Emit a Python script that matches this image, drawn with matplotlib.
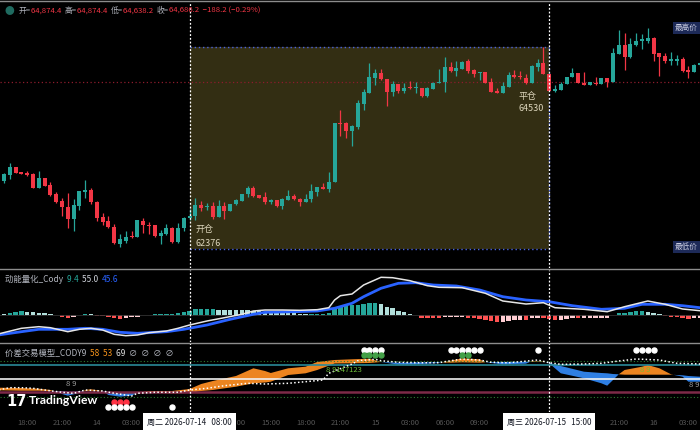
import numpy as np
import matplotlib
matplotlib.use("Agg")
import matplotlib.pyplot as plt
from matplotlib.lines import Line2D
from matplotlib.patches import Rectangle

plt.rcParams["font.family"] = ["Noto Sans CJK SC", "DejaVu Sans"]

W, H = 700, 430
BG = "#000000"
UP = "#26a69a"
DOWN = "#f23645"
LBL = "#b2b5be"

# 30 minute candles, index 0 = 2026-07-13 16:00
opens = [62983, 63086, 63213, 63127, 63110, 63093, 62863, 63024, 62909, 62749,
         62639, 62525, 62324, 62553, 62789, 62823, 62622, 62353, 62290, 62192,
         61894, 61951, 62037, 62009, 62295, 62226, 62216, 62037, 62066, 62164,
         61923, 62164, 62336, 62381, 62565, 62525, 62548, 62364, 62553, 62462,
         62577, 62639, 62749, 62857, 62737, 62703, 62617, 62646, 62553, 62651,
         62725, 62673, 62622, 62663, 62794, 62880, 62845, 62955, 63975, 63970,
         63843, 63901, 64302, 64497, 64755, 64830, 64732, 64514, 64641, 64531,
         64600, 64577, 64583, 64440, 64560, 64658, 64675, 64933, 64870, 64904,
         65042, 64887, 64830, 64847, 64681, 64531, 64497, 64600, 64801, 64784,
         64755, 64658, 64944, 65002, 64818, 64526, 64543, 64641, 64772, 64841,
         64669, 64629, 64669, 64641, 64744, 64686, 65157, 65317, 65105, 65317,
         65391, 65391, 65432, 65174, 65128, 65047, 65047, 65071, 64887, 64858,
         64973]
highs = [63121, 63282, 63224, 63133, 63150, 63121, 63150, 63029, 62966, 62794,
         62680, 62777, 62663, 62806, 62995, 62852, 62634, 62433, 62381, 62238,
         62066, 62123, 62118, 62307, 62336, 62278, 62226, 62135, 62233, 62181,
         62250, 62364, 62491, 62680, 62639, 62594, 62622, 62651, 62611, 62582,
         62668, 62754, 62892, 62892, 62742, 62783, 62668, 62656, 62691, 62823,
         62754, 62691, 62749, 62921, 62880, 62938, 63127, 63970, 64199, 63987,
         63941, 64371, 64560, 65002, 64904, 64904, 64732, 64698, 64641, 64669,
         64703, 64675, 64583, 64589, 64681, 64904, 65116, 65030, 65042, 65042,
         65071, 64899, 64858, 64847, 64744, 64572, 64675, 64847, 64887, 64870,
         64813, 64973, 65071, 65277, 64818, 64629, 64686, 64772, 64916, 64841,
         64858, 64675, 64761, 64744, 64744, 65260, 65575, 65529, 65432, 65529,
         65506, 65604, 65460, 65174, 65185, 65191, 65145, 65116, 64956, 64990,
         65025]
lows = [62949, 63007, 63115, 63093, 63069, 62863, 62863, 62892, 62725, 62594,
        62381, 62175, 62118, 62479, 62680, 62577, 62290, 62221, 62164, 61894,
        61837, 61906, 61992, 62009, 62089, 62066, 62009, 61889, 62044, 61917,
        61906, 62118, 62307, 62307, 62467, 62479, 62324, 62353, 62324, 62462,
        62560, 62639, 62708, 62708, 62685, 62582, 62577, 62536, 62501, 62651,
        62656, 62548, 62622, 62622, 62725, 62835, 62794, 62955, 63757, 63712,
        63585, 63872, 64199, 64497, 64629, 64715, 64268, 64440, 64486, 64486,
        64555, 64497, 64428, 64417, 64560, 64658, 64514, 64858, 64789, 64904,
        64830, 64772, 64715, 64669, 64514, 64497, 64497, 64600, 64744, 64732,
        64646, 64658, 64875, 64813, 64526, 64514, 64543, 64641, 64761, 64658,
        64629, 64629, 64629, 64641, 64600, 64686, 65157, 64887, 65088, 65300,
        65243, 65346, 65047, 64784, 65002, 64973, 64973, 64858, 64755, 64858,
        64956]
closes = [63098, 63224, 63121, 63098, 63081, 62863, 63024, 62897, 62737, 62622,
          62525, 62324, 62565, 62806, 62823, 62611, 62336, 62267, 62181, 61906,
          61975, 62020, 62015, 62307, 62221, 62204, 62032, 62078, 62164, 61923,
          62175, 62347, 62376, 62565, 62508, 62548, 62353, 62553, 62467, 62582,
          62651, 62754, 62857, 62725, 62691, 62611, 62646, 62553, 62663, 62720,
          62668, 62622, 62673, 62806, 62880, 62845, 62966, 63970, 63958, 63843,
          63919, 64314, 64503, 64761, 64830, 64727, 64514, 64641, 64526, 64583,
          64577, 64600, 64440, 64572, 64669, 64686, 64933, 64870, 64916, 65030,
          64870, 64818, 64853, 64669, 64514, 64497, 64617, 64801, 64772, 64761,
          64658, 64956, 65002, 64813, 64530, 64560, 64646, 64772, 64841, 64658,
          64629, 64675, 64641, 64744, 64686, 65174, 65317, 65105, 65334, 65391,
          65415, 65432, 65157, 65116, 65047, 65071, 65071, 64870, 64858, 64973,
          65013]

last_price = 64686
entry_idx, entry_price = 32, 62376
exit_idx, exit_price = 94, 64530
box_top, box_bottom = 65283, 61808

# 动能量化 pane
hist = [0.7, 2.3, 3.3, 4.0, 3.3, 2.6, 2.4, 2.3, 1.0, 0.0,
        -1.7, -2.7, -1.7, 0.3, 1.0, 0.7, -0.7, -1.0, -1.7, -3.3,
        -4.0, -2.7, -2.3, -1.7, 0.3, 0.5, 0.7, 0.8, 1.0, 1.3,
        2.3, 3.3, 4.3, 5.7, 5.9, 6.0, 6.1, 5.5, 5.4, 5.3,
        5.2, 5.0, 4.9, 4.3, 4.0, 3.3, 2.4, 2.3, 1.8, 1.7,
        1.6, 1.0, 0.9, 1.0, 1.1, 1.2, 2.3, 6.0, 8.3, 9.3,
        9.8, 10.5, 11.3, 11.6, 11.7, 10.7, 8.3, 6.7, 4.3, 2.7,
        1.0, -0.3, -2.5, -2.6, -2.7, -2.8, -2.4, -2.3, -2.2, -1.7,
        -2.5, -2.9, -4.0, -5.0, -6.0, -7.3, -6.7, -5.7, -5.0, -4.9,
        -5.1, -3.3, -2.7, -2.9, -4.0, -5.0, -4.9, -4.0, -3.2, -3.4,
        -3.3, -3.2, -3.1, -2.7, -2.6, -0.3, 1.7, 2.3, 3.3, 4.0,
        4.3, 3.3, 2.3, 1.0, -0.7, -1.5, -1.8, -3.3, -4.3, -3.3,
        -2.7]
fast_idx = [-1, 3, 6, 8, 11, 13, 15, 17, 19, 21, 23, 25, 28, 30, 32, 35, 38, 41, 43, 45,
            48, 51, 54, 56, 57, 58, 60, 62, 65, 67, 70, 73, 75, 79, 83, 86, 90, 93, 95, 100,
            104, 107, 111, 114, 117, 120]
fast_val = [-19, -13.3, -11.7, -12.7, -16.7, -14.3, -13.3, -15, -19.3, -20.7, -20, -17.7, -16,
            -13.3, -10, -6, -2.7, 0.7, 4, 5, 5, 4.7, 5.3, 7.3, 15, 19.3, 21, 30, 37.7, 37.3,
            34.3, 29.3, 27.7, 27.3, 21.7, 14, 11, 12.3, 7.3, 5.7, 3.3, 8.3, 14, 10.7, 6, 4.3]
slow_idx = [-1, 3, 6, 11, 14, 17, 20, 23, 28, 31, 35, 39, 43, 45, 50, 54, 57, 60, 62, 65,
            68, 71, 74, 78, 82, 86, 90, 94, 98, 103, 107, 110, 114, 117, 120]
slow_val = [-20, -16.7, -14.3, -14.3, -13.3, -14.3, -17.3, -18.3, -16.7, -14.3, -10, -4.3,
            0.7, 2.7, 3.3, 4, 6.7, 11.7, 18.3, 26.7, 31.7, 32.3, 30, 29, 25, 18.3, 15, 13.3,
            9.3, 5.7, 6.7, 10.7, 10.7, 9.3, 7.3]

# 价差交易模型 pane
spread_idx = [-1, 3, 6, 8, 10, 11, 13, 14, 15, 17, 18, 20, 22, 23, 25, 29, 32, 34, 36, 40,
              43, 45, 46, 49, 52, 54, 57, 60, 63, 65, 68, 72, 75, 77, 79, 82, 83, 86, 90, 91,
              93, 94, 96, 100, 103, 104, 105, 106, 107, 110, 111, 113, 115, 117, 118, 120]
spread_fast = [12.3, 12, 11.3, 10, 6, 4.3, 7, 10, 10.7, 9, 5, 3.3, 4.3, 7.3, 9, 9, 11, 16, 19,
               24, 31.7, 29, 27, 31.7, 33.3, 38, 40, 40.7, 41.3, 38, 35.3, 36, 37, 39.3, 41.7,
               40.7, 37.7, 35.7, 36.3, 39, 38.3, 36.7, 26.7, 21.7, 16.7, 14.3, 20, 25.7, 30,
               33.3, 35, 31.7, 25.7, 23.3, 18.3, 18.3]
spread_slow = [9.7, 9.3, 9.3, 9, 9, 8.3, 8.7, 9.3, 9.3, 9, 8, 7.7, 7.7, 7.7, 7.3, 6.7, 7, 9,
               10, 13.3, 16.7, 17.5, 18.3, 25, 26.7, 30, 36.5, 36.7, 37, 38, 37.3, 37.7, 37.7,
               37.3, 37.7, 37.3, 37.7, 38, 38.3, 38.3, 38, 37.3, 34, 28.3, 27, 26.7, 26, 25.7,
               25.3, 25.3, 25.3, 25.3, 25.3, 24.7, 24, 23.3]
signal_idx = [-1, 1, 3, 5, 7, 10, 12, 14, 17, 19, 22, 23, 26, 28, 30, 32, 35, 38, 42, 45,
              49, 52, 55, 56, 60, 61, 64, 65, 68, 71, 75, 77, 79, 82, 84, 87, 89, 92, 94, 96,
              100, 103, 106, 109, 113, 116, 120]
signal_val = [10, 12.3, 12.3, 11.7, 10, 7.7, 6.7, 10, 9, 6.7, 4, 6.7, 7.7, 7.7, 7.7, 10, 11.7,
              14.3, 16.7, 16, 16.7, 18.3, 20, 26.7, 36, 39.3, 40.7, 39.3, 37.7, 37.3, 37.3, 39.3,
              41, 40, 37.7, 37.3, 38.3, 40, 37.3, 35.7, 36, 36.7, 39, 41, 40, 36.7, 36]
levels = {"upper_dot": 39.3, "upper": 35, "mid": 21, "lower": 8.3, "lower_dot": 2.7}
dots_top = [62, 63, 64, 65, 77, 78, 79, 80, 81, 82, 92, 109, 110, 111, 112]
dots_green = [62, 63, 64, 65, 79, 80]
dots_red = [19, 20, 21]
dots_bottom = [18, 19, 20, 21, 22, 29]

tick_idx = [4, 10, 16, 22, 40, 46, 52, 58, 64, 70, 76, 82, 106, 112, 118]
tick_text = ["18:00", "21:00", "14", "03:00", "12:00", "15:00", "18:00", "21:00",
             "15", "03:00", "06:00", "09:00", "21:00", "16", "03:00"]

XLIM = (-0.69, 120.0)


def pane(top_px, bottom_px):
    ax = fig.add_axes([0, 1 - bottom_px / H, 1, (bottom_px - top_px) / H])
    ax.set_facecolor(BG)
    ax.set_xlim(*XLIM)
    for s in ax.spines.values():
        s.set_visible(False)
    ax.set_yticks([])
    ax.tick_params(axis="x", length=0, labelbottom=False)
    return ax


def put_row(x_px, y_px, parts, size=6):
    r = fig.canvas.get_renderer()
    x = x_px / W
    for s, c in parts:
        t = fig.text(x, 1 - y_px / H, s, color=c, fontsize=size, va="center", ha="left")
        x += t.get_window_extent(renderer=r).width / W


fig = plt.figure(figsize=(W / 100, H / 100), dpi=100, facecolor=BG)

# ---- main price pane
ax1 = pane(2, 268)
ax1.set_ylim(61482, 66057)
o, hi, lo, c = map(np.array, (opens, highs, lows, closes))
x = np.arange(len(o))
col = np.where(c >= o, UP, DOWN)
ax1.add_patch(Rectangle((entry_idx, box_bottom), exit_idx - entry_idx, box_top - box_bottom,
                        facecolor="#332e13", edgecolor="none", zorder=0))
for yy in (box_top, box_bottom):
    ax1.plot([entry_idx, exit_idx], [yy, yy], color="#4a63e0", lw=1, ls=(0, (1, 2)), zorder=1)
ax1.plot([exit_idx, exit_idx], [box_bottom, box_top], color="#4a63e0", lw=1, ls=(0, (1, 2)))
ax1.axhline(last_price, color="#8c1c2c", lw=0.9, ls=(0, (1, 2)), zorder=1)
ax1.vlines(x, lo, hi, colors=col, lw=0.9, zorder=2)
ax1.bar(x, np.maximum(np.abs(c - o), 14), bottom=np.minimum(o, c), width=0.7, color=col, zorder=3)
ax1.text(entry_idx + 1, 62150, "开仓", color="#ddd6bc", fontsize=6.5, va="center")
ax1.text(entry_idx + 1, 61911, str(entry_price), color="#ddd6bc", fontsize=6.5, va="center")
ax1.text(exit_idx - 5.3, 64440, "平仓", color="#ddd6bc", fontsize=6.5, va="center")
ax1.text(exit_idx - 5.3, 64233, str(exit_price), color="#ddd6bc", fontsize=6.5, va="center")
tag = dict(boxstyle="square,pad=0.25", facecolor="#1d2a58", edgecolor="none")
ax1.text(0.997, max(highs), "最高价", transform=ax1.get_yaxis_transform(), ha="right",
         va="center", fontsize=5.5, color="#c9cce0", bbox=tag)
ax1.text(0.997, min(lows), "最低价", transform=ax1.get_yaxis_transform(), ha="right",
         va="center", fontsize=5.5, color="#c9cce0", bbox=tag)

# ---- momentum pane
ax2 = pane(270, 342)
ax2.set_ylim(-27, 45)
hcol = []
for i, v in enumerate(hist):
    prev = hist[i - 1] if i else v
    if v >= 0:
        hcol.append("#26a69a" if v > prev else "#b2dfdb")
    else:
        hcol.append("#ff5252" if v < prev else "#ffcdd2")
ax2.axhline(0, color="#333333", lw=0.6)
ax2.bar(x, hist, width=0.78, color=hcol)
ax2.plot(slow_idx, slow_val, color="#2962ff", lw=2)
ax2.plot(fast_idx, fast_val, color="#e6e6e6", lw=1.1)

# ---- spread model pane
ax3 = pane(343, 412)
ax3.set_ylim(-12, 57)
ax3.axhline(levels["upper_dot"], color="#2e7d32", lw=0.8, ls=(0, (1, 2)))
ax3.axhline(levels["lower_dot"], color="#2e7d32", lw=0.8, ls=(0, (1, 2)))
ax3.axhline(levels["upper"], color="#2a8a98", lw=1.2)
ax3.axhline(levels["mid"], color="#f0f0f0", lw=1.2)
ax3.axhline(levels["lower"], color="#7c2947", lw=1.8)
sf, ss = np.array(spread_fast), np.array(spread_slow)
ax3.fill_between(spread_idx, sf, ss, where=sf >= ss, interpolate=True, color="#ec8420", lw=0)
ax3.fill_between(spread_idx, sf, ss, where=sf < ss, interpolate=True, color="#2f7fe3", lw=0)
ax3.plot(signal_idx, signal_val, color="white", lw=1.1, ls=(0, (1, 1.5)))
ax3.scatter(dots_top, [50] * len(dots_top), s=13, color="white", zorder=5)
ax3.scatter(dots_green, [45] * len(dots_green), s=13, color="#43a047", zorder=5)
ax3.scatter(dots_red, [-2.3] * len(dots_red), s=13, color="#ff3344", zorder=5)
ax3.scatter(dots_bottom, [-7.3] * len(dots_bottom), s=13, color="white", zorder=5)
ax3.text(11.5, 15.7, "8 9", color="#a0a0a0", fontsize=5.5, ha="center", va="center")
ax3.text(55.5, 30, "8 9147123", color="#6fbf3a", fontsize=5.5, va="center")
ax3.text(110.5, 30, "8 9", color="#6fbf3a", fontsize=5.5, ha="center", va="center")
ax3.text(0.999, 15, "8 9", color="#a0a0a0", fontsize=5.5, ha="right", va="center",
         transform=ax3.get_yaxis_transform())
ax3.set_xticks(tick_idx)
ax3.set_xticklabels(tick_text)
ax3.tick_params(axis="x", length=0, pad=5, labelsize=5.5, labelcolor="#555555",
                labelbottom=True)

# crosshair lines
for ax in (ax1, ax2, ax3):
    for k in (entry_idx, exit_idx):
        ax.axvline(k, color="white", lw=0.9, ls=(0, (1.5, 1.5)), zorder=6)

# pane separators
for y in (0.6, 269, 342.5):
    fig.add_artist(Line2D([0, 1], [1 - y / H] * 2, color="#8c8c8c", lw=1))

# headers
fig.text(9 / W, 1 - 11 / H, "●", color="#1f6b60", fontsize=7, ha="center", va="center")
put_row(19, 11, [("开=", LBL), ("64,874.4  ", DOWN), ("高=", LBL), ("64,874.4  ", DOWN),
                 ("低=", LBL), ("64,638.2  ", DOWN), ("收=", LBL),
                 ("64,686.2  −188.2 (−0.29%)", DOWN)], size=5.6)
put_row(5, 279, [("动能量化_Cody  ", LBL), ("9.4  ", UP), ("55.0  ", "#d1d4dc"),
                 ("45.6", "#2962ff")])
put_row(5, 353, [("价差交易模型_CODY9  ", LBL), ("58  ", "#f7931a"), ("53  ", "#f7931a"),
                 ("69  ", "#e0e0e0"), ("∅  ∅  ∅  ∅", LBL)])

# watermark
fig.text(6 / W, 1 - 401 / H, "17", color="white", fontsize=10.5, fontweight="bold",
         family="DejaVu Sans", va="center")
fig.text(29 / W, 1 - 401 / H, "TradingView", color="white", fontsize=8.8, fontweight="bold",
         family="Lato", va="center")

# crosshair time boxes
span = XLIM[1] - XLIM[0]
box = dict(boxstyle="square,pad=0.5", facecolor="white", edgecolor="none")
for k, s in ((entry_idx, "周二 2026-07-14   08:00"), (exit_idx, "周三 2026-07-15   15:00")):
    fig.text((k - XLIM[0]) / span, 1 - 422 / H, s, color="#131722", fontsize=5.8,
             ha="center", va="center", bbox=box)

fig.savefig("out.png", dpi=100, facecolor=BG)
